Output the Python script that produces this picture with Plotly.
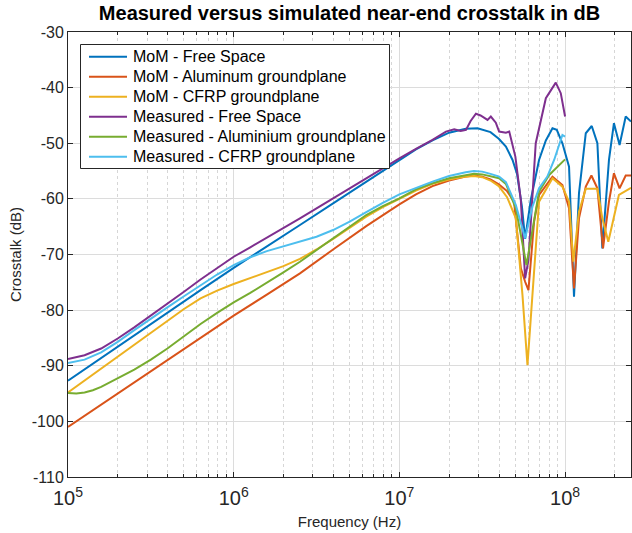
import numpy as np
import plotly.graph_objects as go

# ---------------- data (frequency given as log10(Hz), crosstalk in dB) ----------------
mom_free_logf = [5.0, 5.2, 5.4, 5.6, 5.8, 6.0, 6.2, 6.4, 6.6, 6.8, 7.0, 7.1, 7.2, 7.3, 7.4, 7.472,
                 7.55, 7.6, 7.643, 7.683, 7.71, 7.74, 7.759, 7.793, 7.843, 7.884, 7.924, 7.95, 7.984,
                 8.024, 8.054, 8.084, 8.125, 8.161, 8.195, 8.225, 8.265, 8.295, 8.329, 8.366, 8.398]
mom_free_db = [-92.7, -88.6, -84.5, -80.5, -76.4, -72.4, -68.6, -64.7, -60.8, -56.9, -53.0, -51.1,
               -49.5, -48.1, -47.4, -47.3, -48.0, -49.2, -50.6, -53.0, -55.5, -61.5, -67.2, -60.2,
               -53.0, -49.5, -47.3, -47.6, -50.0, -54.2, -77.6, -59.0, -48.2, -46.9, -50.0, -68.9,
               -53.0, -46.4, -50.3, -45.2, -46.1]

mom_alu_logf = [5.0, 5.2, 5.4, 5.6, 5.8, 6.0, 6.2, 6.4, 6.6, 6.8, 7.0, 7.1, 7.2, 7.3, 7.4, 7.45,
                7.5, 7.55, 7.6, 7.65, 7.692, 7.733, 7.759, 7.779, 7.813, 7.843, 7.924, 7.984, 8.024,
                8.054, 8.084, 8.125, 8.159, 8.195, 8.229, 8.265, 8.295, 8.329, 8.366, 8.398]
mom_alu_db = [-101.0, -97.0, -93.0, -89.0, -85.0, -81.0, -77.2, -73.4, -69.1, -64.9, -61.0, -59.2,
              -57.7, -56.7, -56.0, -55.8, -56.0, -56.5, -57.4, -58.6, -60.5, -72.5, -74.9, -76.4,
              -64.1, -59.3, -56.0, -57.5, -61.7, -76.1, -63.5, -57.8, -55.8, -58.1, -68.9, -60.5,
              -55.4, -58.1, -55.8, -55.8]

mom_cfrp_logf = [5.0, 5.2, 5.4, 5.6, 5.7, 5.8, 5.9, 6.0, 6.1, 6.2, 6.3, 6.4, 6.5, 6.6, 6.7, 6.8,
                 6.9, 7.0, 7.1, 7.2, 7.3, 7.4, 7.45, 7.5, 7.55, 7.6, 7.65, 7.703, 7.743, 7.773,
                 7.803, 7.843, 7.924, 7.984, 8.024, 8.050, 8.084, 8.125, 8.195, 8.225, 8.261,
                 8.295, 8.325, 8.398]
mom_cfrp_db = [-94.8, -90.5, -86.2, -81.9, -79.8, -77.9, -76.5, -75.3, -74.2, -73.2, -72.1, -70.8,
               -69.1, -67.2, -65.2, -63.2, -61.5, -60.0, -58.5, -57.3, -56.5, -56.0, -55.9, -56.1,
               -56.7, -57.7, -59.7, -63.5, -77.3, -89.9, -77.3, -60.5, -56.3, -57.8, -60.5, -71.3,
               -62.3, -58.2, -58.2, -63.5, -67.7, -63.5, -59.3, -58.0]

meas_free_logf = [5.0, 5.1, 5.2, 5.3, 5.4, 5.5, 5.6, 5.7, 5.8, 5.9, 6.0, 6.1, 6.2, 6.3, 6.4, 6.6,
                  6.8, 6.9, 7.0, 7.1, 7.2, 7.281, 7.331, 7.37, 7.402, 7.43, 7.462, 7.49, 7.532,
                  7.552, 7.582, 7.602, 7.643, 7.663, 7.683, 7.70, 7.733, 7.759, 7.779, 7.80, 7.823,
                  7.884, 7.944, 7.974, 8.0]
meas_free_db = [-88.8, -88.1, -86.9, -85.1, -83.1, -81.0, -78.8, -76.7, -74.5, -72.4, -70.4, -68.7,
                -67.0, -65.3, -63.5, -59.9, -56.3, -54.4, -52.7, -51.0, -49.4, -47.9, -47.5, -47.8,
                -47.6, -46.0, -44.7, -45.0, -45.8, -45.2, -46.3, -47.9, -48.1, -47.9, -50.6, -52.4,
                -60.2, -74.3, -71.0, -60.0, -50.0, -41.9, -39.1, -41.0, -45.2]

meas_alu_logf = [5.0, 5.05, 5.1, 5.15, 5.2, 5.3, 5.4, 5.5, 5.6, 5.7, 5.8, 5.9, 6.0, 6.1, 6.2, 6.3,
                 6.4, 6.5, 6.6, 6.7, 6.8, 6.9, 7.0, 7.1, 7.2, 7.3, 7.4, 7.45, 7.5, 7.55, 7.602,
                 7.643, 7.703, 7.767, 7.813, 7.843, 7.904, 8.0]
meas_alu_db = [-94.9, -95.0, -94.8, -94.4, -93.8, -92.3, -90.7, -88.9, -86.9, -84.7, -82.5, -80.5,
               -78.6, -76.9, -75.1, -73.2, -71.3, -69.2, -67.1, -65.0, -62.9, -61.3, -59.9, -58.3,
               -57.2, -56.3, -55.7, -55.5, -55.6, -55.9, -56.3, -57.3, -61.7, -71.9, -63.5, -58.7,
               -55.7, -52.9]

meas_cfrp_logf = [5.0, 5.1, 5.2, 5.3, 5.4, 5.5, 5.6, 5.7, 5.8, 5.9, 6.0, 6.1, 6.2, 6.3, 6.4, 6.5,
                  6.6, 6.7, 6.8, 6.9, 7.0, 7.1, 7.2, 7.3, 7.4, 7.45, 7.5, 7.55, 7.602, 7.643, 7.703,
                  7.759, 7.803, 7.843, 7.893, 7.934, 7.984, 8.0]
meas_cfrp_db = [-89.5, -88.9, -87.6, -85.7, -83.6, -81.5, -79.5, -77.5, -75.5, -73.6, -71.9, -70.5,
                -69.4, -68.5, -67.7, -66.8, -65.6, -64.1, -62.4, -60.7, -59.2, -58.0, -56.9, -55.9,
                -55.2, -55.0, -55.1, -55.5, -56.0, -57.0, -61.1, -67.1, -61.4, -58.1, -56.0, -53.0,
                -48.5, -48.8]

series_names = ["MoM - Free Space", "MoM - Aluminum groundplane", "MoM - CFRP groundplane",
                "Measured - Free Space", "Measured - Aluminium groundplane",
                "Measured - CFRP groundplane"]
series_colors = ["#0072BD", "#D95319", "#EDB120", "#7E2F8E", "#77AC30", "#4DBEEE"]

y_tick_vals = [-30, -40, -50, -60, -70, -80, -90, -100, -110]
y_tick_text = ["-30", "-40", "-50", "-60", "-70", "-80", "-90", "-100", "-110"]

series = [
    (mom_free_logf, mom_free_db),
    (mom_alu_logf, mom_alu_db),
    (mom_cfrp_logf, mom_cfrp_db),
    (meas_free_logf, meas_free_db),
    (meas_alu_logf, meas_alu_db),
    (meas_cfrp_logf, meas_cfrp_db),
]

FONT = "Liberation Sans, Arial, Helvetica, sans-serif"
AX = "#262626"
W, H = 632, 533
ML, MR, MT, MB = 68, 1, 32, 56
PW, PH = W - ML - MR, H - MT - MB


def px_x(px):
    return (px - ML) / PW


def px_y(py):
    return 1 - (py - MT) / PH


fig = go.Figure()
for (lf, db), name, color in zip(series, series_names, series_colors):
    fig.add_trace(go.Scatter(
        x=np.power(10.0, np.array(lf)), y=db, mode="lines", name=name,
        line=dict(color=color, width=2), showlegend=False))

# legend drawn as a boxed list (MATLAB-style compact legend)
shapes = [dict(type="rect", xref="paper", yref="paper",
               x0=px_x(80.5), x1=px_x(389.5), y0=px_y(168.5), y1=px_y(44.5),
               fillcolor="white", line=dict(color=AX, width=1), layer="above")]
annotations = []
for i, (name, color) in enumerate(zip(series_names, series_colors)):
    yc = 56.7 + 20.0 * i
    shapes.append(dict(type="line", xref="paper", yref="paper",
                       x0=px_x(89), x1=px_x(127), y0=px_y(yc), y1=px_y(yc),
                       line=dict(color=color, width=2), layer="above"))
    annotations.append(dict(text=name, xref="paper", yref="paper", x=px_x(130.5), y=px_y(yc),
                            xanchor="left", yanchor="middle", showarrow=False,
                            font=dict(family=FONT, size=16, color="black")))

fig.update_layout(
    width=W, height=H,
    margin=dict(l=ML, r=MR, t=MT, b=MB, autoexpand=False),
    paper_bgcolor="white", plot_bgcolor="white",
    font=dict(family=FONT, size=13, color=AX),
    title=dict(text="<b>Measured versus simulated near-end crosstalk in dB</b>",
               font=dict(family=FONT, size=20, color="black"),
               x=0.5, xref="paper", xanchor="center",
               y=1 - 13 / H, yref="container", yanchor="middle"),
    showlegend=False,
    shapes=shapes,
    annotations=annotations,
)

fig.update_xaxes(
    type="log", range=[5, np.log10(2.5e8)], automargin=False,
    tickmode="linear", tick0=0, dtick=1, exponentformat="power", showexponent="all",
    showline=True, linecolor=AX, linewidth=1, mirror="allticks",
    ticks="inside", ticklen=5, tickcolor=AX, ticklabelstandoff=4,
    showgrid=True, gridcolor="#dcdcdc", gridwidth=1,
    minor=dict(dtick="D1", ticks="inside", ticklen=3, tickcolor=AX, showgrid=True,
               gridcolor="#d6d6d6", griddash="dot"),
    zeroline=False,
    tickfont=dict(family=FONT, size=16, color=AX),
    title=dict(text="Frequency (Hz)", font=dict(family=FONT, size=15, color=AX), standoff=8),
)
fig.update_yaxes(
    range=[-110, -30], tickmode="array", tickvals=y_tick_vals, ticktext=y_tick_text,
    automargin=False,
    showline=True, linecolor=AX, linewidth=1, mirror="allticks",
    ticks="inside", ticklen=5, tickcolor=AX,
    showgrid=True, gridcolor="#dcdcdc", gridwidth=1,
    zeroline=False,
    tickfont=dict(family=FONT, size=16, color=AX),
    title=dict(text="Crosstalk (dB)", font=dict(family=FONT, size=15, color=AX), standoff=6),
)

fig.write_html("out.html", config={"displayModeBar": False},
               post_script="document.body.style.margin='0';document.body.style.padding='0';")
